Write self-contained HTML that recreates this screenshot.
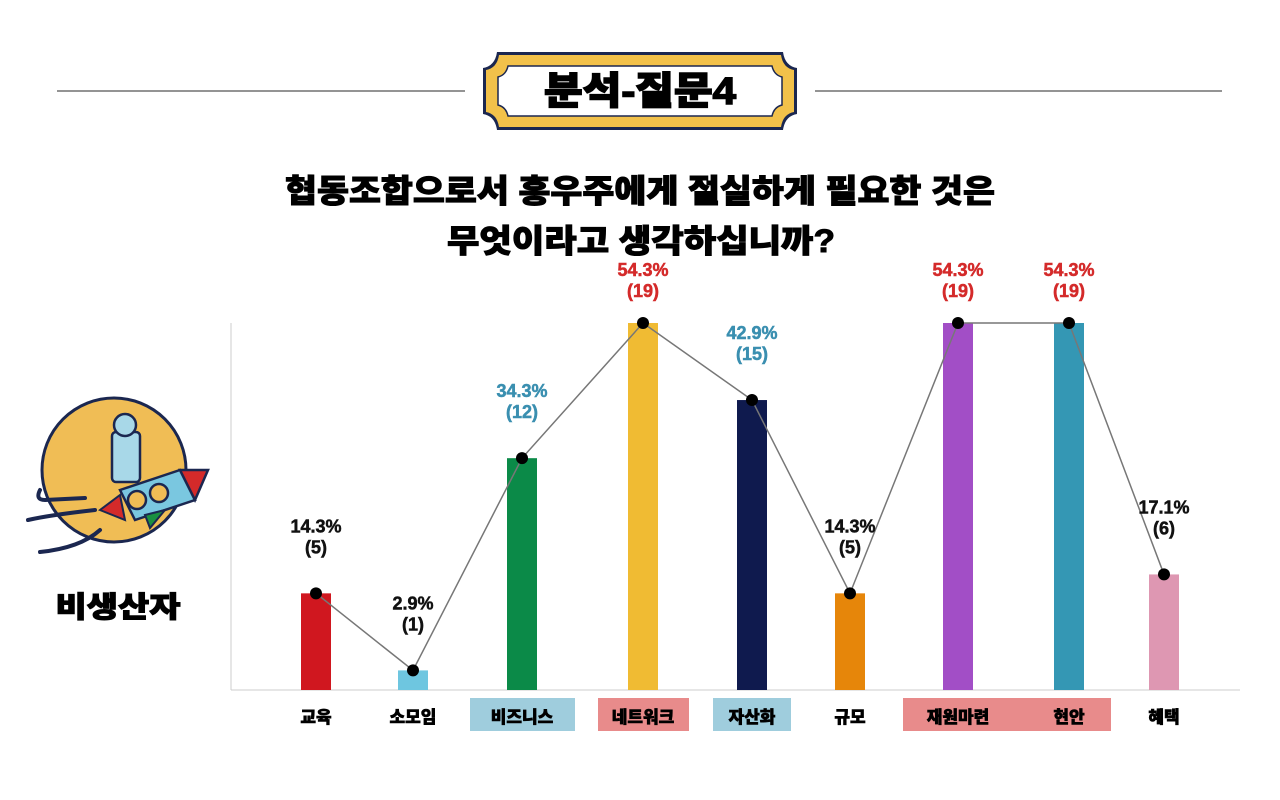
<!DOCTYPE html>
<html><head><meta charset="utf-8"><style>
html,body{margin:0;padding:0;background:#fff;}
svg{display:block;font-family:"Liberation Sans","Noto Sans CJK KR",sans-serif;}
</style></head><body>
<svg id="chart" width="1280" height="800" viewBox="0 0 1280 800" xmlns="http://www.w3.org/2000/svg">
<line x1="57" y1="91" x2="465" y2="91" stroke="#555" stroke-width="1.2"/>
<line x1="815" y1="91" x2="1222" y2="91" stroke="#555" stroke-width="1.2"/>
<g>
<path d="M497,52 H783 Q785,66 797,68 V114 Q785,116 783,130 H497 Q495,116 483,114 V68 Q495,66 497,52 Z" fill="#1b2750"/>
<path d="M499,55 H781 Q783,68 794,70 V112 Q783,114 781,127 H499 Q497,114 486,112 V70 Q497,68 499,55 Z" fill="#f2c14a"/>
<path d="M508,66 H772 Q774,75 782,77 V105 Q774,107 772,116 H508 Q506,107 498,105 V77 Q506,75 508,66 Z" fill="#fff" stroke="#1b2750" stroke-width="1.5"/>
<text x="640" y="104" text-anchor="middle" font-size="38" font-weight="900" stroke="#000" stroke-width="1.5" textLength="192" lengthAdjust="spacingAndGlyphs">분석-질문4</text>
</g>
<text x="640" y="202" text-anchor="middle" font-size="32" font-weight="900" stroke="#000" stroke-width="1" textLength="710" lengthAdjust="spacingAndGlyphs">협동조합으로서 홍우주에게 절실하게 필요한 것은</text>
<text x="641" y="252" text-anchor="middle" font-size="32" font-weight="900" stroke="#000" stroke-width="1" textLength="388" lengthAdjust="spacingAndGlyphs">무엇이라고 생각하십니까?</text>
<g>
<circle cx="114" cy="470" r="72" fill="#f0bd55" stroke="#1b2750" stroke-width="3"/>
<path d="M40,490 Q35,500 45,500 L85,498 M28,520 Q50,515 95,510 M40,552 Q80,548 100,530" stroke="#1b2750" stroke-width="4" fill="none" stroke-linecap="round"/>
<rect x="112" y="432" width="28" height="50" rx="4" fill="#a8d8e8" stroke="#1b2750" stroke-width="2.5"/>
<circle cx="125" cy="425" r="11" fill="#a8d8e8" stroke="#1b2750" stroke-width="2.5"/>
<path d="M100,510 L120,495 L125,520 Z" fill="#d42a2a" stroke="#1b2750" stroke-width="2"/>
<path d="M120,490 L180,470 L195,500 L135,520 Z" fill="#7ac7e0" stroke="#1b2750" stroke-width="2.5"/>
<path d="M180,470 L208,470 L195,500 Z" fill="#d42a2a" stroke="#1b2750" stroke-width="2.5"/>
<circle cx="137" cy="500" r="9" fill="#f0bd55" stroke="#1b2750" stroke-width="2.5"/>
<circle cx="159" cy="493" r="9" fill="#f0bd55" stroke="#1b2750" stroke-width="2.5"/>
<path d="M145,515 L165,510 L150,528 Z" fill="#1a9040" stroke="#1b2750" stroke-width="2"/>
</g>
<text x="118" y="617" text-anchor="middle" font-size="29" font-weight="900" stroke="#000" stroke-width="1" textLength="125" lengthAdjust="spacingAndGlyphs">비생산자</text>
<g id="plot"></g>
</svg>
<script>
const categories=["교육","소모임","비즈니스","네트워크","자산화","규모","재원마련","현안","혜택"];
const percents=[14.3,2.9,34.3,54.3,42.9,14.3,54.3,54.3,17.1];
const counts=[5,1,12,19,15,5,19,19,6];
const barColors=["#d0171f","#6ec6e0","#0b8a48","#f0bb33","#0f1a4e","#e6860a","#a24ec6","#3497b4","#de97b2"];
const labelColors=["#111","#111","#3a8fb0","#d42a2a","#3a8fb0","#111","#d42a2a","#d42a2a","#111"];
const barX=[316,413,522,643,752,850,958,1069,1164];
const NS="http://www.w3.org/2000/svg";
const g=document.getElementById('plot');
const y0=690, pxPer=367/54.3;
function yScale(v){return y0-v*pxPer;}
function mk(t,a,p){const e=document.createElementNS(NS,t);for(const k in a)e.setAttribute(k,a[k]);(p||g).appendChild(e);return e;}
const ax=mk('line',{x1:231,y1:323,x2:231,y2:690,stroke:'#ccc','stroke-width':1});


const bx=mk('line',{x1:231,y1:690,x2:1240,y2:690,stroke:'#ccc','stroke-width':1});


const boxes=[[470,575,'#9fcddd'],[598,689,'#e88b8b'],[713,791,'#9fcddd'],[903,1111,'#e88b8b']];
boxes.forEach((b)=>{
 const r=mk('rect',{x:b[0],y:698,width:b[1]-b[0],height:33,fill:b[2]});
 
 
});
percents.forEach((v,i)=>{
 const r=mk('rect',{x:barX[i]-15,y:yScale(v),width:30,height:y0-yScale(v),fill:barColors[i]});
 
 
 const t=mk('text',{x:barX[i],y:723,'text-anchor':'middle','font-size':17,'font-weight':900,stroke:'#000','stroke-width':0.6});
 t.textContent=categories[i];
 
 
});
const pts=percents.map((v,i)=>barX[i]+','+yScale(v)).join(' ');
const pl=mk('polyline',{points:pts,fill:'none',stroke:'#777','stroke-width':1.5});


percents.forEach((v,i)=>{
 const y=yScale(v);
 const c=mk('circle',{cx:barX[i],cy:y,r:6,fill:'#000'});
 
 
 const ly=Math.max(y-68,269)+7;
 const t1=mk('text',{x:barX[i],y:ly,'text-anchor':'middle','font-size':18,'font-weight':700,fill:labelColors[i],stroke:labelColors[i],'stroke-width':0.5});
 t1.textContent=v.toFixed(1)+'%';
 
 
 const t2=mk('text',{x:barX[i],y:ly+21,'text-anchor':'middle','font-size':18,'font-weight':700,fill:labelColors[i],stroke:labelColors[i],'stroke-width':0.5});
 t2.textContent='('+counts[i]+')';
 
 
});
</script>
</body></html>
